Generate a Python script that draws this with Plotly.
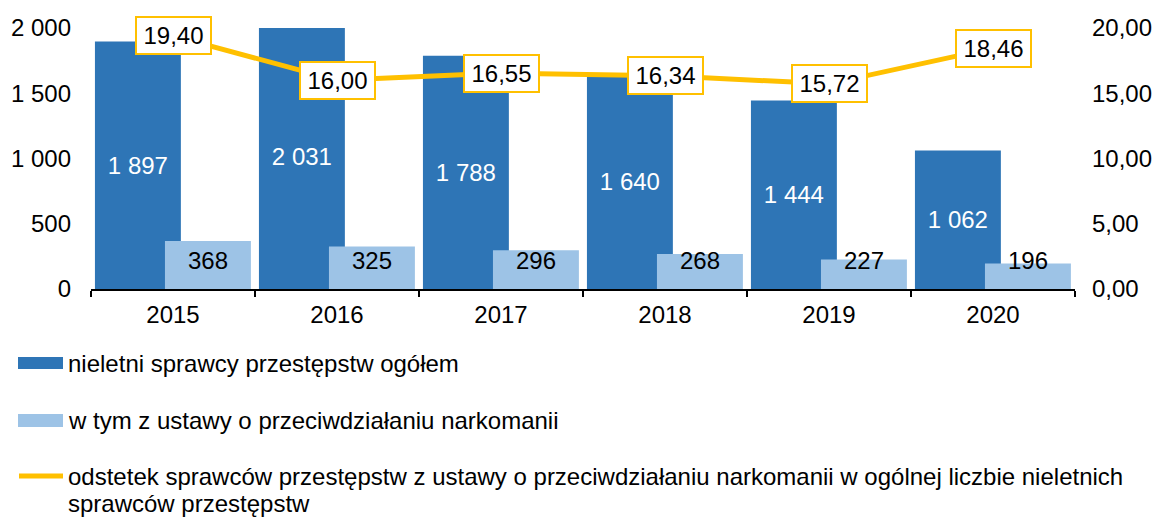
import plotly.graph_objects as go

# Data
years = ["2015", "2016", "2017", "2018", "2019", "2020"]
total_offenders = [1897, 2031, 1788, 1640, 1444, 1062]
drug_law_offenders = [368, 325, 296, 268, 227, 196]
drug_share_pct = [19.40, 16.00, 16.55, 16.34, 15.72, 18.46]

legend_labels = [
    "nieletni sprawcy przestępstw ogółem",
    "w tym z ustawy o przeciwdziałaniu narkomanii",
    "odstetek sprawców przestępstw z ustawy o przeciwdziałaniu narkomanii w ogólnej liczbie nieletnich",
    "sprawców przestępstw",
]

DARK = "#2E75B6"
LIGHT = "#9DC3E6"
GOLD = "#FFC000"
FONT = "Liberation Sans, Arial, sans-serif"
FS = 24

W, H = 1157, 518
ML, MR, MT, MB = 91, 82, 28, 229
PW, PH = W - ML - MR, H - MT - MB


def px_x(x):
    return (x - ML) / PW


def px_y(y):
    return (H - MB - y) / PH


def fmt_int(v):
    return f"{v:,}".replace(",", " ")


def fmt_pct(v):
    return f"{v:.2f}".replace(".", ",")


fig = go.Figure()

bar_w = 0.524
fig.add_trace(go.Bar(
    x=years, y=total_offenders, name=legend_labels[0],
    marker=dict(color=DARK, line=dict(width=0)),
    width=bar_w, offset=-0.476,
    text=[fmt_int(v) for v in total_offenders],
    textposition="inside", insidetextanchor="middle",
    textfont=dict(color="white", size=FS, family=FONT),
    cliponaxis=True, showlegend=False,
))
fig.add_trace(go.Bar(
    x=years, y=drug_law_offenders, name=legend_labels[1],
    marker=dict(color=LIGHT, line=dict(width=0)),
    width=bar_w, offset=-0.049,
    showlegend=False,
))
fig.add_trace(go.Scatter(
    x=years, y=drug_share_pct, yaxis="y2", mode="lines",
    line=dict(color=GOLD, width=5), showlegend=False,
))

annotations = []
# labels on the light bars, sitting near the base (x given as category index)
for i, v in enumerate(drug_law_offenders):
    annotations.append(dict(
        x=i, y=0, xref="x", yref="y", text=fmt_int(v), showarrow=False,
        xanchor="center", yanchor="bottom", xshift=34.5, yshift=13,
        font=dict(size=FS, color="black", family=FONT),
    ))
# boxed labels on the percentage line
for i, v in enumerate(drug_share_pct):
    annotations.append(dict(
        x=i, y=v, xref="x", yref="y2", text=fmt_pct(v), showarrow=False,
        xanchor="center", yanchor="middle",
        bgcolor="white", bordercolor=GOLD, borderwidth=2, borderpad=2,
        width=69, height=31,
        font=dict(size=FS, color="black", family=FONT),
    ))

# legend drawn below the chart
shapes = [
    dict(type="rect", xref="paper", yref="paper",
         x0=px_x(18), x1=px_x(63), y0=px_y(369), y1=px_y(357),
         fillcolor=DARK, line=dict(width=0)),
    dict(type="rect", xref="paper", yref="paper",
         x0=px_x(18), x1=px_x(63), y0=px_y(427), y1=px_y(414),
         fillcolor=LIGHT, line=dict(width=0)),
    dict(type="line", xref="paper", yref="paper",
         x0=px_x(19), x1=px_x(63), y0=px_y(476), y1=px_y(476),
         line=dict(color=GOLD, width=5)),
]
for txt, yc in zip(legend_labels, [363, 420, 476, 503]):
    annotations.append(dict(
        x=px_x(66), y=px_y(yc), xref="paper", yref="paper", text=txt,
        showarrow=False, xanchor="left", yanchor="middle",
        font=dict(size=FS, color="black", family=FONT),
    ))

fig.update_layout(
    width=W, height=H,
    margin=dict(l=ML, r=MR, t=MT, b=MB, autoexpand=False),
    paper_bgcolor="white", plot_bgcolor="white",
    barmode="overlay", separators=", ",
    font=dict(family=FONT, size=FS, color="black"),
    xaxis=dict(
        type="category", showgrid=False, showline=True, linecolor="black",
        linewidth=2, ticks="outside", tickson="boundaries", ticklen=6,
        tickwidth=2, tickcolor="black", tickfont=dict(size=FS),
        range=[-0.5, len(years) - 0.5], automargin=False,
        ticklabelstandoff=3,
    ),
    yaxis=dict(
        range=[0, 2000], dtick=500, showgrid=False, zeroline=False,
        showline=False, separatethousands=True, tickfont=dict(size=FS),
        ticklabelstandoff=19, automargin=False,
    ),
    yaxis2=dict(
        range=[0, 20], dtick=5, overlaying="y", side="right",
        showgrid=False, zeroline=False, showline=False, tickformat=".2f",
        tickfont=dict(size=FS), ticklabelstandoff=16, automargin=False,
    ),
    annotations=annotations, shapes=shapes,
)

fig.write_html("out.html")
